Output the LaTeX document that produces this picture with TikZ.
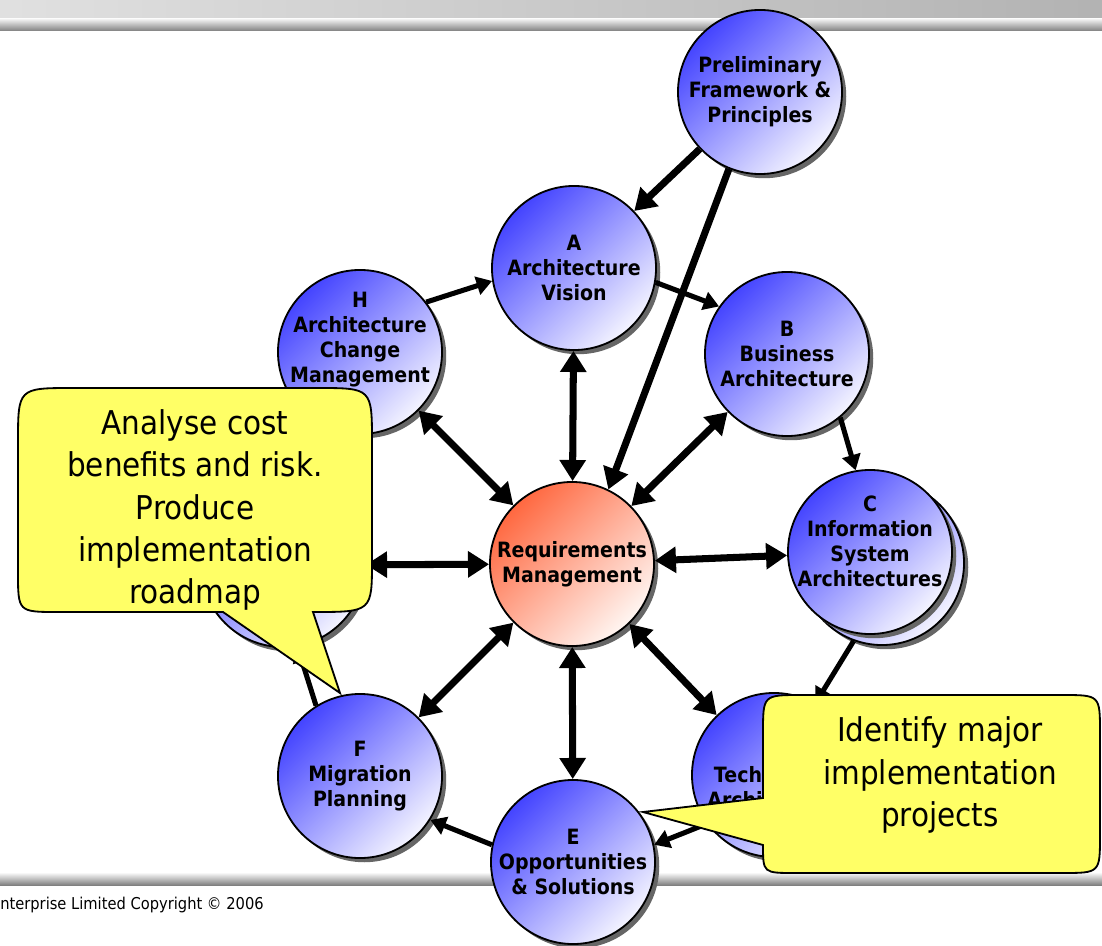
\documentclass[tikz,border=0pt]{standalone}
\usepackage{fontspec}
\setmainfont[FakeStretch=0.9]{DejaVu Sans}
\usetikzlibrary{arrows.meta,shadows}
\definecolor{phaseblue}{RGB}{68,68,255}
\definecolor{phaselight}{RGB}{244,244,255}
\definecolor{reqred}{RGB}{255,104,64}
\definecolor{reqlight}{RGB}{255,246,242}
\definecolor{noteyellow}{RGB}{255,255,102}

\begin{document}
\begin{tikzpicture}[x=0.025cm,y=-0.025cm,
    phasetext/.style={align=center, inner sep=0pt, font=\fontsize{15}{17.8}\selectfont\bfseries},
    phase/.style={circle, draw, line width=1.3pt, minimum size=4.1cm, inner sep=0pt, phasetext,
      top color=phaseblue, bottom color=phaselight, shading angle=45,
      drop shadow={shadow xshift=3pt, shadow yshift=-3pt, fill=black!60, opacity=1}},
    reqphase/.style={phase, top color=reqred, bottom color=reqlight, shading angle=45},
    spoke/.style={<->, >={Triangle[length=15pt,width=18pt]}, line width=5pt},
    feed/.style={-{Triangle[length=15pt,width=18pt]}, line width=5pt},
    ring/.style={-{Triangle[length=11pt,width=13pt]}, line width=3.6pt},
    note/.style={fill=noteyellow, draw, line width=1.3pt},
    notetext/.style={align=center, font=\fontsize{23.3}{30}\selectfont}]
    \useasboundingbox (0,0) rectangle (1102,945);
    \fill[white] (0,0) rectangle (1102,945);
    \shade[left color=black!12, right color=black!30] (0,0) rectangle (1102,19);
    \shade[top color=black!5, bottom color=black!50] (0,19) rectangle (1102,31);
    \shade[top color=black!3, bottom color=black!50] (0,873) rectangle (1102,885);
    \node[anchor=west, inner sep=0pt, font=\fontsize{11.6}{14}\selectfont] (copyright) at (0,905) {nterprise Limited Copyright © 2006};

    \node[phase] (P) at (760,92) {Preliminary\\Framework \&\\Principles};
    \node[phase] (A) at (574,268) {A\\Architecture\\Vision};
    \node[phase] (B) at (787,354) {B\\Business\\Architecture};
    \node[phase] (C2) at (882,563) {};
    \node[phase] (C) at (870,552) {};
    \node[phasetext] (Ctext) at (870,541) {C\\Information\\System\\Architectures};
    \node[phase] (D) at (774,775) {D\\Technology\\Architecture};
    \node[phase] (E) at (573,862) {E\\Opportunities\\\& Solutions};
    \node[phase] (F) at (360,776) {F\\Migration\\Planning};
    \node[phase] (G) at (283,565) {};
    \node[phase] (H) at (360,352) {};
    \node[phasetext] (Htext) at (360,340) {H\\Architecture\\Change\\Management};
    \node[reqphase] (R) at (572,564) {Requirements\\Management};

    \draw[spoke] (R) -- (A);
    \draw[spoke] (R) -- (B);
    \draw[spoke] (R) -- (C);
    \draw[spoke] (R) -- (D);
    \draw[spoke] (R) -- (E);
    \draw[spoke] (R) -- (F);
    \draw[spoke] (R) -- (G);
    \draw[spoke] (R) -- (H);

    \draw[feed] (P) -- (A);
    \draw[feed] (P.-112) -- (R.64);
    \draw[ring] (H.37) -- (A.189);
    \draw[ring] (A.-10) -- (B.145);
    \draw[ring] (B.-50) -- (C.100);
    \draw[ring] (C2.-110) -- (D.60);
    \draw[ring] (D.216) -- (E.12);
    \draw[ring] (E.168) -- (F.-32);
    \draw[ring] (F.122) -- (G.-80);

    \draw[note] (223,612) -- (58,612) .. controls (18,612) .. (18,572) -- (18,443)
      .. controls (18,388) .. (73,388) -- (317,388) .. controls (372,388) .. (372,443)
      -- (372,560) .. controls (372,612) .. (313,612) -- (340,693) -- cycle;
    \node[notetext] (roadmapnote) at (195,510) {Analyse cost\\benefits and risk.\\Produce\\implementation\\roadmap};

    \draw[note] (643,812) -- (763,798) -- (763,733) .. controls (763,695) .. (801,695)
      -- (1062,695) .. controls (1100,695) .. (1100,733) -- (1100,835)
      .. controls (1100,873) .. (1062,873) -- (795,873) .. controls (763,873) .. (763,845) -- cycle;
    \node[notetext] (projectnote) at (940,775) {Identify major\\implementation\\projects};
\end{tikzpicture}
\end{document}
